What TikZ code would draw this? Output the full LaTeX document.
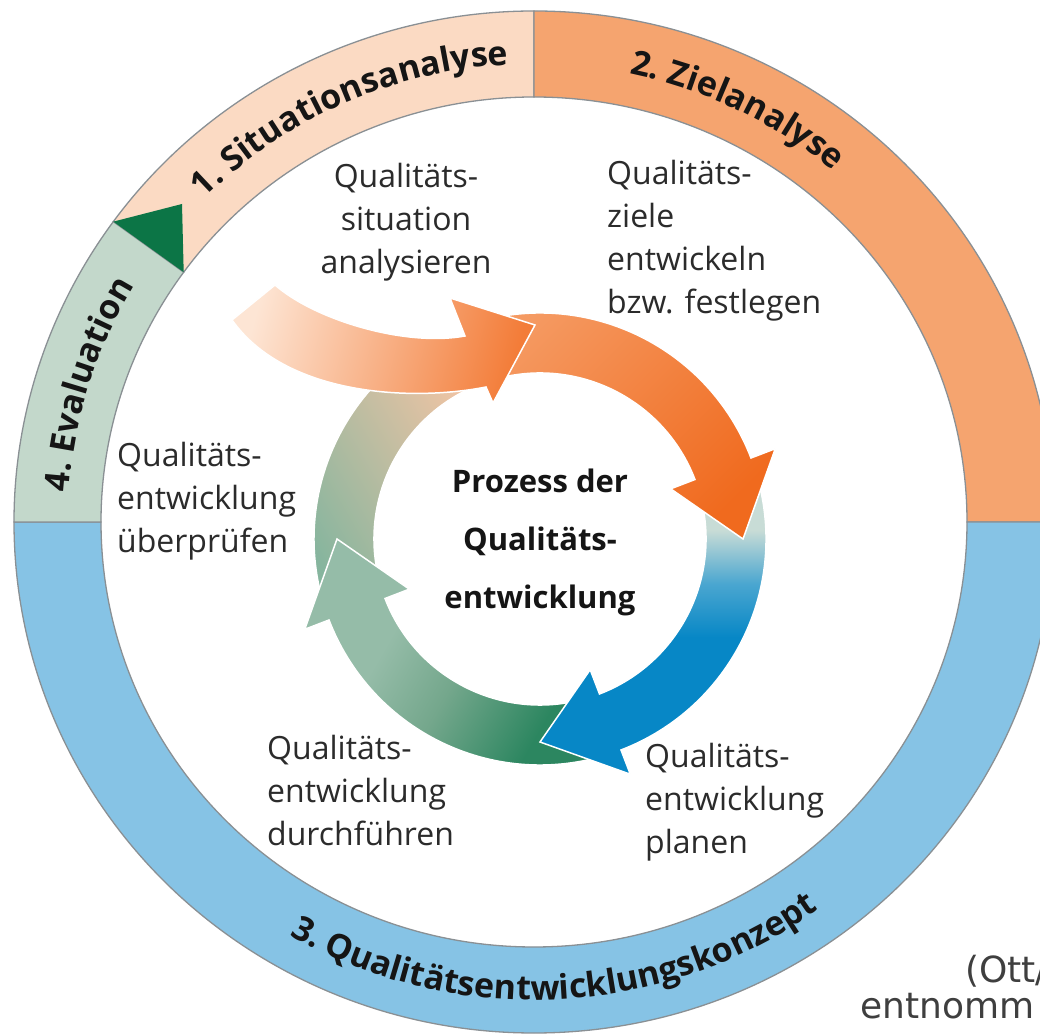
\documentclass[tikz,border=0pt]{standalone}
\usepackage{fontspec}
\setmainfont{Open Sans}
\newfontfamily\srcfont{DejaVu Sans}
\usetikzlibrary{decorations.text}
\definecolor{segA}{HTML}{FBDAC3}
\definecolor{segB}{HTML}{F5A46F}
\definecolor{segC}{HTML}{86C3E5}
\definecolor{segD}{HTML}{C3D8CB}
\definecolor{ringline}{HTML}{8A9094}
\definecolor{trigreen}{HTML}{0C7546}
\definecolor{txtgray}{HTML}{2B2B2B}
\definecolor{ringtxt}{HTML}{151515}
\definecolor{srcgray}{HTML}{3F3F3F}
\definecolor{orgL}{HTML}{F59A62}
\definecolor{orgD}{HTML}{F06A1E}
\definecolor{bluL}{HTML}{C8DCD6}
\definecolor{bluM}{HTML}{4AA6D0}
\definecolor{bluD}{HTML}{0787C6}
\definecolor{grnL}{HTML}{95BCA8}
\definecolor{grnM}{HTML}{74A78C}
\definecolor{grnD}{HTML}{2C8660}
\definecolor{quadG}{HTML}{86B59E}
\definecolor{quadP}{HTML}{F0C4A4}
\definecolor{entL}{HTML}{FDE5D4}
\definecolor{entD}{HTML}{F37C38}
\pgfdeclareverticalshading{blueflow}{100bp}{color(0bp)=(bluD); color(48bp)=(bluD); color(57bp)=(bluM); color(66bp)=(bluL); color(100bp)=(bluL)}
\pgfdeclareverticalshading{greenflow}{100bp}{color(0bp)=(grnD); color(30bp)=(grnD); color(48bp)=(grnM); color(62bp)=(grnL); color(100bp)=(grnL)}
\newcommand\ringfont{\fontsize{34}{34}\selectfont\bfseries\color{ringtxt}}
% #1 start angle, #2 head base angle, #3 tip angle, #4 style
\newcommand\ringarrow[4]{%
  \path[#4] (#1:226pt) arc[start angle=#1, end angle=#2, radius=226pt]
    -- (#2:252pt) -- (#3:203pt) -- (#2:140pt) -- (#2:166pt)
    arc[start angle=#2, end angle=#1, radius=166pt] -- cycle;}
\begin{document}
\begin{tikzpicture}[x=1pt,y=1pt,
  ringseg/.style={draw=ringline, line width=1.3pt},
  flowarrow/.style={draw=white, line width=1.5pt, line join=miter},
  desc/.style={font=\fontsize{32}{43}\selectfont, text=txtgray, inner sep=0pt},
  centre/.style={font=\fontsize{31}{58}\selectfont\bfseries, text=ringtxt, inner sep=0pt, align=center},
  ringlabel/.style={decorate, decoration={text along path, text align=center, text={#1}}},
  srctext/.style={font=\srcfont\fontsize{36}{36}\selectfont, text=srcgray, inner sep=0pt, anchor=base west}]
\clip (0,0) rectangle (1040,1035);
\fill[white] (0,0) rectangle (1040,1035);
% outer ring
\begin{scope}[shift={(534,513)}]
  \path[ringseg, fill=segA] (144:520pt and 511pt) arc[start angle=144, end angle=90, x radius=520pt, y radius=511pt]
    -- (90:433pt and 425pt) arc[start angle=90, end angle=144, x radius=433pt, y radius=425pt] -- cycle;
  \path[ringseg, fill=segB] (90:520pt and 511pt) arc[start angle=90, end angle=0, x radius=520pt, y radius=511pt]
    -- (0:433pt and 425pt) arc[start angle=0, end angle=90, x radius=433pt, y radius=425pt] -- cycle;
  \path[ringseg, fill=segC] (0:520pt and 511pt) arc[start angle=0, end angle=-180, x radius=520pt, y radius=511pt]
    -- (180:433pt and 425pt) arc[start angle=-180, end angle=0, x radius=433pt, y radius=425pt] -- cycle;
  \path[ringseg, fill=segD] (180:520pt and 511pt) arc[start angle=180, end angle=144, x radius=520pt, y radius=511pt]
    -- (144:433pt and 425pt) arc[start angle=144, end angle=180, x radius=433pt, y radius=425pt] -- cycle;
  \coordinate (dout) at (144:520pt and 511pt);
  \coordinate (din) at (144:433pt and 425pt);
  % ring labels
  \path[ringlabel={|\ringfont|1. Situationsanalyse}] (154.2:466pt and 458pt) arc[start angle=154.2, end angle=74.2, x radius=466pt, y radius=458pt];
  \path[ringlabel={|\ringfont|2. Zielanalyse}] (104:466pt and 458pt) arc[start angle=104, end angle=24, x radius=466pt, y radius=458pt];
  \path[ringlabel={|\ringfont|4. Evaluation}] (202.7:466pt and 458pt) arc[start angle=202.7, end angle=122.7, x radius=466pt, y radius=458pt];
  \path[ringlabel={|\ringfont|3. Qualitätsentwicklungskonzept}] (-132.2:486pt and 478pt) arc[start angle=-132.2, end angle=-42.2, x radius=486pt, y radius=478pt];
\end{scope}
\coordinate (apex) at (182,831);
\fill[trigreen] (dout) -- (din) -- (apex) -- cycle;
% process cycle
\begin{scope}[shift={(540,496)}]
  \path[flowarrow, top color=quadP, bottom color=quadG, shading angle=-60]
    (195:226pt) arc[start angle=195, end angle=118, radius=226pt]
    -- (112:166pt) arc[start angle=112, end angle=195, radius=166pt] -- cycle;
  \ringarrow{-75}{-159}{-180}{flowarrow, shade, shading=greenflow, shading angle=60}
  \ringarrow{16}{-69}{-90}{flowarrow, shade, shading=blueflow}
  \ringarrow{106}{21}{0}{flowarrow, top color=orgL, bottom color=orgD, shading angle=45}
\end{scope}
% entry arrow
\path[flowarrow, top color=entL, bottom color=entD, shading angle=75]
  (275,750) .. controls (315,715) and (405,688) .. (465,699)
  -- (450,737) -- (535,710) -- (493,632) -- (486,648)
  .. controls (410,633) and (285,640) .. (232,715) -- cycle;
% texts
\node[desc, align=center, anchor=north] (tsit) at (406,872) {Qualitäts-\\situation\\analysieren};
\node[desc, align=left, anchor=north west] (tziel) at (607,875) {Qualitäts-\\ziele\\entwickeln\\bzw. festlegen};
\node[desc, align=left, anchor=north west] (tpruef) at (117,593) {Qualitäts-\\entwicklung\\überprüfen};
\node[desc, align=left, anchor=north west] (tdurch) at (267,300) {Qualitäts-\\entwicklung\\durchführen};
\node[desc, align=left, anchor=north west] (tplan) at (645,292) {Qualitäts-\\entwicklung\\planen};
\node[centre, anchor=north] (tmid) at (540,566) {Prozess der\\Qualitäts-\\entwicklung};
\node[srctext] (src1) at (965,53) {(Ott/};
\node[srctext] (src2) at (860,17) {entnomm};
\end{tikzpicture}
\end{document}
